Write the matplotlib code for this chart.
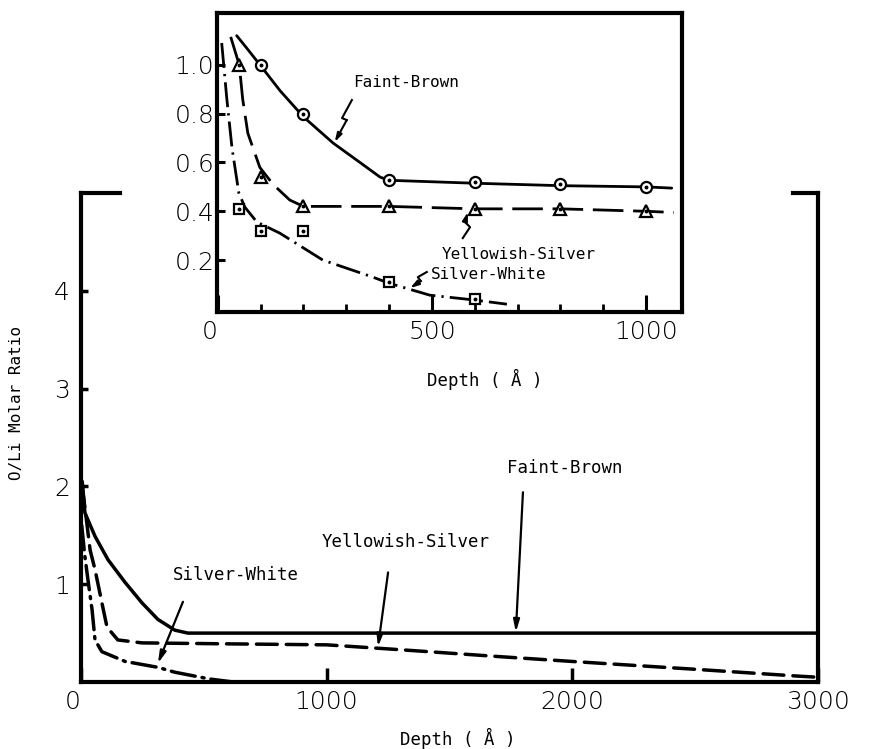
import matplotlib
matplotlib.use("Agg")
import matplotlib.pyplot as plt

# ---------------- data ----------------
# main panel (Depth in Angstrom, O/Li molar ratio)
fb_x = [5, 16, 57, 110, 179, 248, 313, 382, 435, 2990]
fb_y = [2.05, 1.73, 1.49, 1.25, 1.02, 0.81, 0.64, 0.53, 0.50, 0.50]

ys_x = [5, 20, 37, 57, 85, 106, 150, 248, 600, 1000, 1300, 1700, 2000, 2500, 2920, 2990]
ys_y = [2.0, 1.7, 1.35, 1.15, 0.81, 0.56, 0.43, 0.40, 0.39, 0.38, 0.33, 0.26, 0.21, 0.13, 0.06, 0.05]

sw_x = [3, 15, 28, 45, 57, 85, 180, 313, 382, 525, 620]
sw_y = [1.6, 1.3, 1.05, 0.74, 0.43, 0.31, 0.21, 0.15, 0.10, 0.03, 0.0]

# inset curves
in_fb_x = [44, 67, 103, 145, 200, 269, 332, 379, 400, 600, 800, 1000, 1060]
in_fb_y = [1.12, 1.07, 0.99, 0.895, 0.787, 0.68, 0.60, 0.54, 0.527, 0.515, 0.505, 0.50, 0.495]

in_ys_x = [30, 50, 58, 70, 98, 129, 168, 200, 400, 600, 800, 1000, 1065]
in_ys_y = [1.115, 1.0, 0.86, 0.72, 0.58, 0.51, 0.446, 0.42, 0.42, 0.41, 0.41, 0.40, 0.395]

in_sw_x = [9, 21, 33, 49, 63, 91, 145, 245, 362, 400, 495, 600, 675]
in_sw_y = [1.09, 0.86, 0.66, 0.475, 0.417, 0.356, 0.31, 0.20, 0.13, 0.105, 0.056, 0.036, 0.019]

# inset measured points
pt_fb_x = [100, 200, 400, 600, 800, 1000]
pt_fb_y = [1.00, 0.80, 0.53, 0.52, 0.51, 0.50]
pt_ys_x = [50, 100, 200, 400, 600, 800, 1000]
pt_ys_y = [1.00, 0.54, 0.42, 0.42, 0.41, 0.41, 0.40]
pt_sw_x = [50, 100, 200, 400, 600]
pt_sw_y = [0.41, 0.32, 0.32, 0.11, 0.04]

main_xticks = [0, 1000, 2000, 3000]
main_yticks = [1, 2, 3, 4]
in_xticks = [0, 500, 1000]
in_xminor = [100, 200, 300, 400, 600, 700, 800, 900]
in_yticks = [0.2, 0.4, 0.6, 0.8, 1.0]
in_yticklabels = ["0.2", "0.4", "0.6", "0.8", "1.0"]

LABEL_FONT = "DejaVu Sans Mono"
TICK_FONT = "DejaVu Sans"

W, H = 872, 749
fig = plt.figure(figsize=(W / 100, H / 100), dpi=100)

# ---------------- main axes ----------------
ax = fig.add_axes([81 / W, 1 - 682 / H, 737 / W, 489 / H])
ax.set_xlim(0, 3000)
ax.set_ylim(0, 5)
for s in ["left", "bottom", "right"]:
    ax.spines[s].set_linewidth(3)
ax.spines["top"].set_visible(False)
# partial top frame (gap left for inset)
ax.plot([0, 0.053], [1, 1], transform=ax.transAxes, color="k", lw=3,
        clip_on=False, solid_capstyle="projecting")
ax.plot([0.966, 1.0], [1, 1], transform=ax.transAxes, color="k", lw=3,
        clip_on=False, solid_capstyle="projecting")

ax.plot(fb_x, fb_y, color="k", lw=2.5, solid_capstyle="round")
ax.plot(ys_x, ys_y, color="k", lw=2.5, dashes=(6, 2.6), dash_capstyle="round")
ax.plot(sw_x, sw_y, color="k", lw=2.5, dashes=(7, 2, 0.6, 2), dash_capstyle="round")

ax.set_xticks(main_xticks)
ax.set_xticklabels([str(v) for v in main_xticks])
ax.set_yticks(main_yticks)
ax.set_yticklabels([str(v) for v in main_yticks])
ax.tick_params(axis="x", direction="in", length=10, width=2.5, labelsize=18, pad=6)
ax.tick_params(axis="y", direction="in", length=5, width=2.5, labelsize=18, pad=8)
for lab in ax.get_xticklabels() + ax.get_yticklabels():
    lab.set_fontfamily(TICK_FONT)
    lab.set_fontweight("light")
ax.get_xticklabels()[0].set_horizontalalignment("right")

ax.set_xlabel("Depth ( Å )", fontfamily=LABEL_FONT, fontsize=12.5)
ax.xaxis.set_label_coords((458 - 81) / 737, (682 - 728) / 489)
ax.set_ylabel("O/Li Molar Ratio", fontfamily=LABEL_FONT, fontsize=11.5)
ax.yaxis.set_label_coords((24 - 81) / 737, (682 - 403) / 489)

lbl_kw = dict(fontfamily=LABEL_FONT, fontsize=12.5, va="center", ha="left")
arr_kw = dict(arrowstyle="-|>,head_length=0.7,head_width=0.18", color="k", lw=1.6,
              shrinkA=0, shrinkB=0)
ax.text(1734, 2.19, "Faint-Brown", **lbl_kw)
ax.annotate("", xy=(1770, 0.51), xytext=(1799, 1.94), arrowprops=arr_kw)
ax.text(981, 1.43, "Yellowish-Silver", **lbl_kw)
ax.annotate("", xy=(1209, 0.36), xytext=(1250, 1.12), arrowprops=arr_kw)
ax.text(374, 1.09, "Silver-White", **lbl_kw)
ax.annotate("", xy=(313, 0.19), xytext=(415, 0.82), arrowprops=arr_kw)

# ---------------- inset axes ----------------
axin = fig.add_axes([217 / W, 1 - 312 / H, (682 - 217) / W, (312 - 13) / H])
axin.set_facecolor("white")
axin.set_xlim(-2, 1084)
axin.set_ylim(-0.013, 1.213)
for s in axin.spines.values():
    s.set_linewidth(3)

axin.plot(in_fb_x, in_fb_y, color="k", lw=2.0, solid_capstyle="round")
axin.plot(in_ys_x, in_ys_y, color="k", lw=2.0, dashes=(11, 3.5))
axin.plot(in_sw_x, in_sw_y, color="k", lw=2.0, dashes=(9, 2.2, 0.8, 2.2))

mk = dict(ls="none", mfc="white", mec="k", mew=1.6, ms=8, zorder=5)
dot = dict(ls="none", marker="o", mfc="k", mec="k", ms=1.8, zorder=6)
axin.plot(pt_fb_x, pt_fb_y, marker="o", **mk)
axin.plot(pt_fb_x, pt_fb_y, **dot)
axin.plot(pt_ys_x, pt_ys_y, marker="^", **mk)
axin.plot(pt_ys_x, pt_ys_y, **dot)
axin.plot(pt_sw_x, pt_sw_y, marker="s", **dict(mk, ms=7))
axin.plot(pt_sw_x, pt_sw_y, **dot)

axin.set_xticks(in_xticks)
axin.set_xticklabels([str(v) for v in in_xticks])
axin.set_xticks(in_xminor, minor=True)
axin.set_yticks(in_yticks)
axin.set_yticklabels(in_yticklabels)
axin.tick_params(axis="x", which="major", direction="in", length=12, width=2.2,
                 labelsize=18, pad=6)
axin.tick_params(axis="x", which="minor", direction="in", length=6, width=2.0)
axin.tick_params(axis="y", direction="in", length=6, width=2.2, labelsize=18, pad=2)
for lab in axin.get_xticklabels() + axin.get_yticklabels():
    lab.set_fontfamily(TICK_FONT)
    lab.set_fontweight("light")
axin.get_xticklabels()[0].set_horizontalalignment("right")

axin.set_xlabel("Depth ( Å )", fontfamily=LABEL_FONT, fontsize=12.5)
axin.xaxis.set_label_coords((485 - 217) / 465, (312 - 369) / 299)

ilbl = dict(fontfamily=LABEL_FONT, fontsize=11.5, va="center", ha="left", zorder=7)
axin.text(315, 0.926, "Faint-Brown", **ilbl)
axin.text(523, 0.222, "Yellowish-Silver", **ilbl)
axin.text(497, 0.140, "Silver-White", **ilbl)

sq_kw = dict(arrowstyle="-|>,head_length=0.5,head_width=0.15", color="k", lw=1.5,
             shrinkA=0, shrinkB=0)
# squiggly pointers
axin.plot([313, 290, 301], [0.856, 0.782, 0.774], color="k", lw=1.5)
axin.annotate("", xy=(273, 0.684), xytext=(301, 0.774), arrowprops=sq_kw)
axin.plot([572, 589, 577], [0.29, 0.335, 0.356], color="k", lw=1.5)
axin.annotate("", xy=(584, 0.397), xytext=(577, 0.356), arrowprops=sq_kw)
axin.plot([488, 467, 474], [0.151, 0.130, 0.114], color="k", lw=1.5)
axin.annotate("", xy=(449, 0.085), xytext=(474, 0.114), arrowprops=sq_kw)

fig.savefig("out.png", dpi=100)
